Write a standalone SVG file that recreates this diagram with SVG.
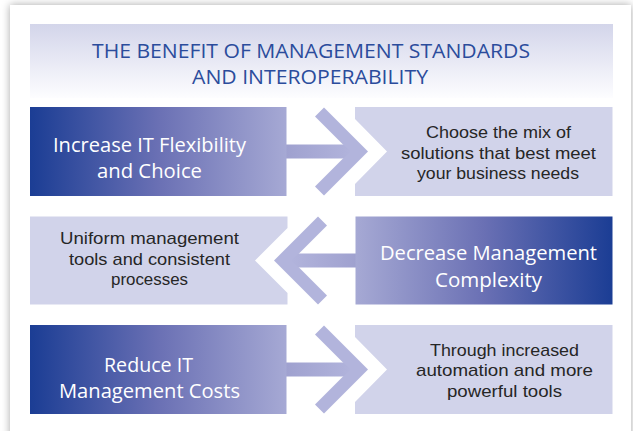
<svg xmlns="http://www.w3.org/2000/svg" width="633" height="431" viewBox="0 0 633 431">
  <defs>
    <filter id="shadow" x="-5%" y="-5%" width="110%" height="110%">
      <feDropShadow dx="0" dy="0" stdDeviation="4" flood-color="#000" flood-opacity="0.35"/>
    </filter>
    <linearGradient id="headGrad" x1="0" y1="0" x2="0" y2="1">
      <stop offset="0" stop-color="#d3d5ea"/>
      <stop offset="1" stop-color="#fdfdff"/>
    </linearGradient>
    <linearGradient id="darkRight" x1="0" y1="0" x2="1" y2="0">
      <stop offset="0" stop-color="#1b3d94"/>
      <stop offset="0.5" stop-color="#6a70b4"/>
      <stop offset="1" stop-color="#a6a9d4"/>
    </linearGradient>
    <linearGradient id="darkLeft" x1="1" y1="0" x2="0" y2="0">
      <stop offset="0" stop-color="#1b3d94"/>
      <stop offset="0.5" stop-color="#6a70b4"/>
      <stop offset="1" stop-color="#a6a9d4"/>
    </linearGradient>
    <linearGradient id="shaftR" x1="0" y1="0" x2="1" y2="0">
      <stop offset="0" stop-color="#9fa1cf"/>
      <stop offset="1" stop-color="#b2b4dc"/>
    </linearGradient>
    <linearGradient id="shaftL" x1="1" y1="0" x2="0" y2="0">
      <stop offset="0" stop-color="#9fa1cf"/>
      <stop offset="1" stop-color="#b2b4dc"/>
    </linearGradient>
    <style>
      .title { font-family: "Open Sans", "Noto Sans", sans-serif; font-size: 19.5px; fill: #2b4c9c; text-anchor: middle; }
      .big { font-family: "Open Sans", "Noto Sans", sans-serif; font-size: 19.5px; fill: #ffffff; text-anchor: middle; }
      .small { font-family: "Liberation Sans", Arial, sans-serif; font-size: 17px; fill: #262626; text-anchor: middle; }
      .light { fill: #d1d3ea; }
      .chev { fill: #b2b4dc; }
    </style>
  </defs>

  <rect x="0" y="0" width="633" height="431" fill="#ffffff"/>
  <rect x="10" y="5" width="621" height="440" fill="#ffffff" filter="url(#shadow)"/>

  <g id="header">
    <rect x="30" y="24" width="583" height="74" fill="url(#headGrad)"/>
    <text class="title" x="311" y="58" textLength="438" lengthAdjust="spacingAndGlyphs">THE BENEFIT OF MANAGEMENT STANDARDS</text>
    <text class="title" x="310" y="84" textLength="236" lengthAdjust="spacingAndGlyphs">AND INTEROPERABILITY</text>
  </g>

  <g id="connectors">
    <g id="arrow1">
      <rect x="286" y="144.5" width="68" height="14" fill="url(#shaftR)"/>
      <polygon class="chev" points="324,107.5 368,151.5 324,195.5 315,186.5 350,151.5 315,116.5"/>
    </g>
    <g id="arrow2">
      <rect x="290" y="253.5" width="66" height="14" fill="url(#shaftL)"/>
      <polygon class="chev" points="318,216.5 274,260.5 318,304.5 327,295.5 292,260.5 327,225.5"/>
    </g>
    <g id="arrow3">
      <rect x="286" y="362.5" width="68" height="14" fill="url(#shaftR)"/>
      <polygon class="chev" points="324,325.5 368,369.5 324,413.5 315,404.5 350,369.5 315,334.5"/>
    </g>
  </g>

  <g id="node-flexibility">
    <rect x="30" y="107" width="256.5" height="89" fill="url(#darkRight)"/>
    <text class="big" x="149.5" y="152" textLength="193" lengthAdjust="spacingAndGlyphs">Increase IT Flexibility</text>
    <text class="big" x="149.5" y="177.5" textLength="105" lengthAdjust="spacingAndGlyphs">and Choice</text>
  </g>

  <g id="node-choose">
    <polygon class="light" points="355,107 612.5,107 612.5,196 355,196 355,184 387,151.5 355,119"/>
    <text class="small" x="498.5" y="138" textLength="145" lengthAdjust="spacingAndGlyphs">Choose the mix of</text>
    <text class="small" x="498.5" y="158.5" textLength="195" lengthAdjust="spacingAndGlyphs">solutions that best meet</text>
    <text class="small" x="498" y="178.5" textLength="162" lengthAdjust="spacingAndGlyphs">your business needs</text>
  </g>

  <g id="node-uniform">
    <polygon class="light" points="30,216.5 287.5,216.5 287.5,228 255,260.5 287.5,293 287.5,304.5 30,304.5"/>
    <text class="small" x="149.5" y="244" textLength="179" lengthAdjust="spacingAndGlyphs">Uniform management</text>
    <text class="small" x="149.5" y="265" textLength="161" lengthAdjust="spacingAndGlyphs">tools and consistent</text>
    <text class="small" x="149.5" y="285" textLength="77" lengthAdjust="spacingAndGlyphs">processes</text>
  </g>

  <g id="node-complexity">
    <rect x="355.5" y="216.5" width="257" height="88" fill="url(#darkLeft)"/>
    <text class="big" x="488.5" y="260" textLength="217" lengthAdjust="spacingAndGlyphs">Decrease Management</text>
    <text class="big" x="488.5" y="287" textLength="107" lengthAdjust="spacingAndGlyphs">Complexity</text>
  </g>

  <g id="node-costs">
    <rect x="30" y="325" width="256.5" height="89" fill="url(#darkRight)"/>
    <text class="big" x="148.5" y="372" textLength="89" lengthAdjust="spacingAndGlyphs">Reduce IT</text>
    <text class="big" x="149.5" y="398" textLength="181" lengthAdjust="spacingAndGlyphs">Management Costs</text>
  </g>

  <g id="node-automation">
    <polygon class="light" points="355,325 612.5,325 612.5,414 355,414 355,402 387,369.5 355,337"/>
    <text class="small" x="504.5" y="355.5" textLength="149" lengthAdjust="spacingAndGlyphs">Through increased</text>
    <text class="small" x="504.5" y="376" textLength="177" lengthAdjust="spacingAndGlyphs">automation and more</text>
    <text class="small" x="504.5" y="396.5" textLength="115" lengthAdjust="spacingAndGlyphs">powerful tools</text>
  </g>
</svg>
